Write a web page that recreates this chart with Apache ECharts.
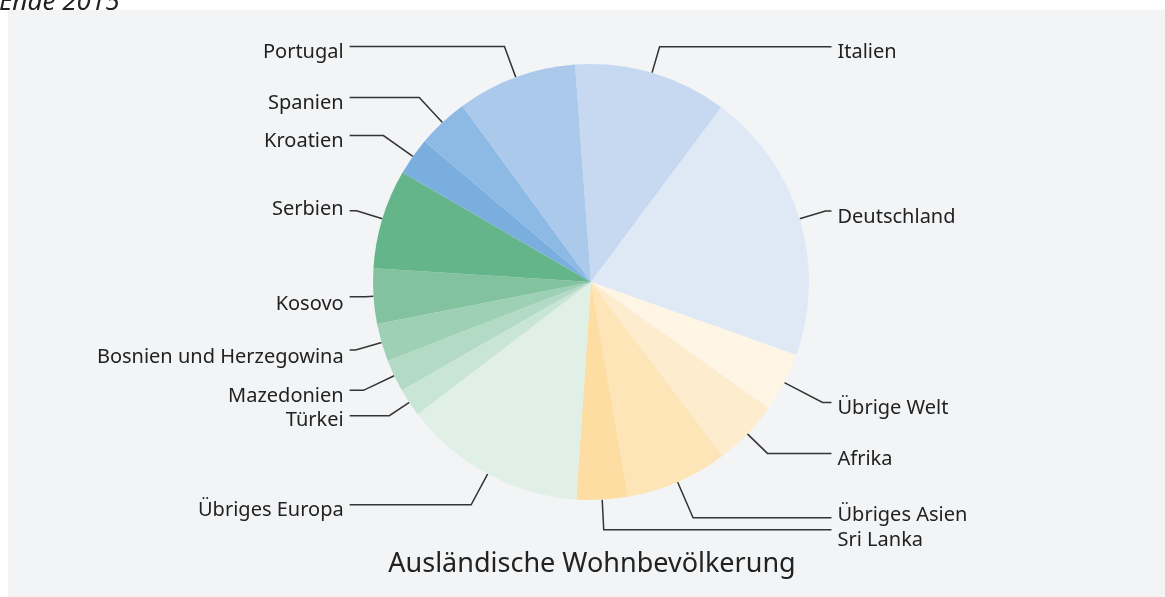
<!DOCTYPE html>
<html>
<head>
<meta charset="utf-8">
<script src="https://cdn.jsdelivr.net/npm/echarts@6/dist/echarts.min.js"></script>
<style>
html,body{margin:0;padding:0;background:#ffffff;}
#chart{width:1165px;height:597px;}
</style>
</head>
<body>
<div id="chart"></div>
<script>
// Data (clockwise from top), percentages
const categories = ['Italien','Deutschland','Übrige Welt','Afrika','Übriges Asien','Sri Lanka','Übriges Europa','Türkei','Mazedonien','Bosnien und Herzegowina','Kosovo','Serbien','Kroatien','Spanien','Portugal'];
const values = [11.4, 20.3, 4.4, 4.9, 7.6, 3.8, 13.6, 2.1, 2.4, 2.8, 4.1, 7.4, 2.8, 3.8, 8.9];
const colors = ['#c6d9f0','#dfe9f6','#fef5e4','#fdecce','#fde5b8','#fedda2','#e1f0e7','#c9e5d6','#b3dac5','#9dd0b4','#82c29f','#64b58a','#7aaedf','#8db9e5','#abc9eb'];
const titleText = 'Ausländische Wohnbevölkerung';
const subText = 'Ende 2015';

// styling: first label-line segment length per slice (same order as categories)
const labelLineLengths = [27, 27, 43, 28, 39, 30, 35, 24, 34, 27, 8, 27, 36, 34, 33];
// styling: vertical text offset per slice
const labelDy = [5, 6, 6, 6, -3, 11, 5, 5, 6, 7, 8, -2, 6, 6, 6];

const chart = echarts.init(document.getElementById('chart'), null, {renderer:'canvas'});
const font = '"Noto Sans", "Open Sans", sans-serif';
chart.setOption({
  backgroundColor: '#ffffff',
  animation: false,
  graphic: [
    {type:'rect', left:8, top:10, shape:{width:1157, height:587}, style:{fill:'#f3f4f6'}, z:-10},
    {type:'text', left:-1, top:-10, style:{text:subText, font:'italic 26px ' + font, fill:'#222'}, z:10},
    {type:'text', x:592, y:564, style:{text:titleText, font:'27px ' + font, fill:'#222', align:'center', verticalAlign:'middle'}, z:10}
  ],
  series: [{
    type: 'pie',
    center: [591, 282],
    radius: [0, 218],
    startAngle: 94.2,
    clockwise: true,
    silent: true,
    data: categories.map((c, i) => ({
      name: c, value: values[i],
      itemStyle: {color: colors[i]},
      label: {offset: [0, labelDy[i]]},
      labelLine: {length: labelLineLengths[i]}
    })),
    label: {
      show: true,
      formatter: '{b}',
      fontFamily: font,
      fontSize: 20,
      lineHeight: 20,
      color: '#222',
      alignTo: 'labelLine',
      distanceToLabelLine: 6
    },
    labelLine: {
      show: true,
      length: 27,
      length2: 6,
      lineStyle: {color: '#333', width: 1.5}
    }
  }]
});
</script>
</body>
</html>
